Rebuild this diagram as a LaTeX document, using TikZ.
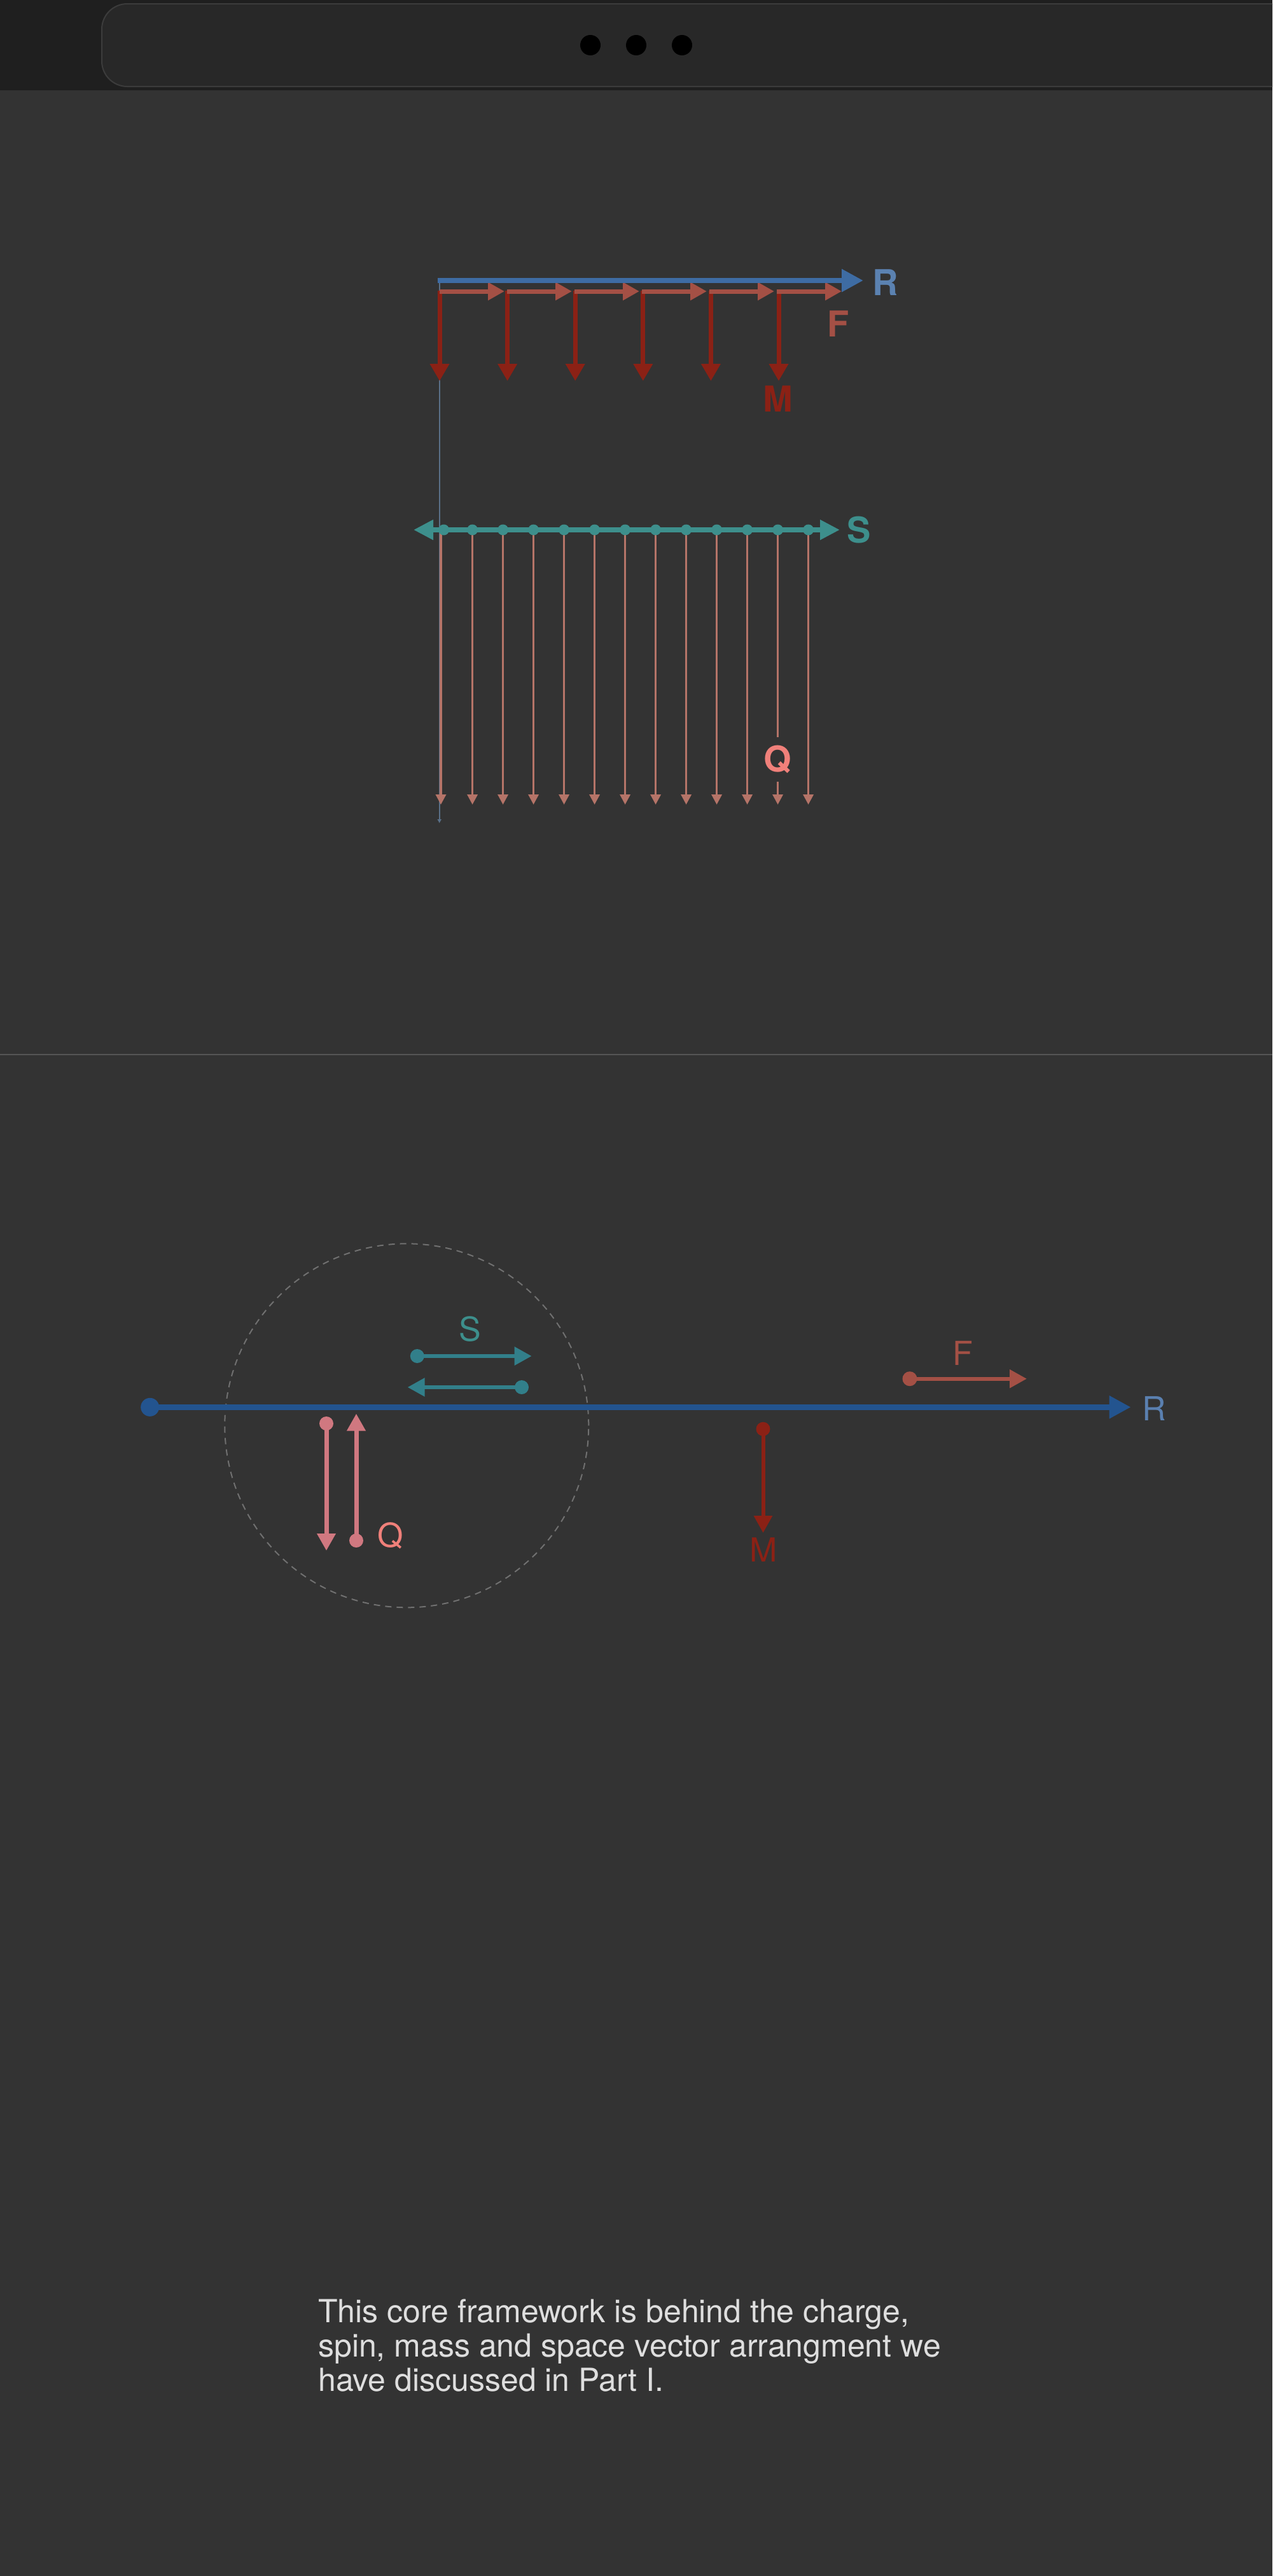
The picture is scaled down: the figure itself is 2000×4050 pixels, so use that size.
\documentclass[tikz,border=0pt]{standalone}
\usepackage{fontspec}
\setmainfont{TeX Gyre Heros}
\usetikzlibrary{arrows.meta,positioning}

\definecolor{bgcol}{HTML}{333333}
\definecolor{barcol}{HTML}{1F1F1F}
\definecolor{tabcol}{HTML}{282828}
\definecolor{tabline}{HTML}{3C3C3C}
\definecolor{rulecol}{HTML}{555555}
\definecolor{rcol}{HTML}{3E6CA3}
\definecolor{rdeep}{HTML}{23548F}
\definecolor{rlab}{HTML}{5A80B0}
\definecolor{fcol}{HTML}{A45045}
\definecolor{mcol}{HTML}{8B2115}
\definecolor{scol}{HTML}{3D8F8C}
\definecolor{sdeep}{HTML}{327F8A}
\definecolor{qcol}{HTML}{B57468}
\definecolor{qdeep}{HTML}{D07880}
\definecolor{qlab}{HTML}{F0807A}
\definecolor{thincol}{HTML}{5A7088}
\definecolor{ringcol}{HTML}{707070}
\definecolor{txtcol}{HTML}{DEDEDE}

\begin{document}
\begin{tikzpicture}[x=1pt,y=-1pt]

\tikzset{
  Dot/.style = {circle, inner sep=0pt, minimum size=22pt},
  LabelTop/.style = {inner sep=0pt, font=\fontsize{56}{56}\selectfont\bfseries},
  LabelBot/.style = {inner sep=0pt, font=\fontsize{52}{52}\selectfont},
  RTop/.style = {rcol, line width=8.5pt, -{Triangle[length=34pt,width=34pt]}},
  FTop/.style = {fcol, line width=7pt, -{Triangle[length=26pt,width=27pt]}},
  MTop/.style = {mcol, line width=7pt, -{Triangle[length=27pt,width=29pt]}},
  STop/.style = {scol, line width=7.5pt, {Triangle[length=31pt,width=30pt]}-{Triangle[length=31pt,width=30pt]}},
  QTop/.style = {qcol, line width=3.5pt, -{Triangle[length=16pt,width=16pt]}},
  VecBot/.style = {line width=6pt, -{Triangle[length=27pt,width=28pt]}} }

  \clip (0,0) rectangle (2000,4050);
  \fill[bgcol] (0,0) rectangle (2000,4050);

  % window bar
  \fill[barcol] (0,0) rectangle (2000,142);
  \draw[tabline, fill=tabcol, line width=2pt, rounded corners=40pt] (160,6) rectangle (2100,136);
  \node[Dot, fill=black, minimum size=32pt] (w1) at (928,71) {};
  \node[Dot, fill=black, minimum size=32pt] (w2) at (1000,71) {};
  \node[Dot, fill=black, minimum size=32pt] (w3) at (1072,71) {};

  \draw[rulecol, line width=2pt] (0,1658) -- (2000,1658);

  % upper picture
  \coordinate (v0) at (690.7,441);
  \coordinate (v1) at (690.7,1294);
  \draw[thincol, line width=2pt, -{Triangle[length=6pt,width=6pt]}] (v0) -- (v1);

  \foreach \i in {0,...,5} {
    \coordinate (m\i) at (691+106.6*\i,457);
    \coordinate (mt\i) at (691+106.6*\i,599);
    \draw[MTop] (m\i) -- (mt\i);
    \coordinate (f\i) at (691+106*\i,458);
    \coordinate (ft\i) at (793+106*\i,458);
    \draw[FTop] (f\i) -- (ft\i);
  }

  \coordinate (r0) at (688,441);
  \coordinate (r1) at (1357,441);
  \draw[RTop] (r0) -- (r1);

  \node[LabelTop, text=rcol!85!white] (R) at (1392,444) {R};
  \node[LabelTop, text=fcol] (F) at (1318,509) {F};
  \node[LabelTop, text=mcol] (M) at (1223,627) {M};

  \foreach \x [count=\n] in {693,742.6,790.6,838.6,886.6,934.6,982.6,1030.6,1078.6,1126.6,1174.6,1222.6,1270.6} {
    \coordinate (q\n) at (\x,833);
    \coordinate (qt\n) at (\x,1265);
    \draw[QTop] (q\n) -- (qt\n);
  }

  \coordinate (sL) at (650,833);
  \coordinate (sR) at (1320,833);
  \draw[STop] (sL) -- (sR);
  \foreach \x [count=\n] in {697.6,742.6,790.6,838.6,886.6,934.6,982.6,1030.6,1078.6,1126.6,1174.6,1222.6,1270.6}
    \node[Dot, fill=scol, minimum size=17pt] (sd\n) at (\x,833) {};

  \node[LabelTop, text=scol] (S) at (1350,833) {S};
  \node[LabelTop, text=qlab, fill=bgcol, inner xsep=4pt, inner ysep=13pt] (Q) at (1222,1194) {Q};

  % lower picture
  \draw[ringcol, line width=2pt, dash pattern=on 10pt off 8pt] (639.3,2241.3) circle[radius=286pt];

  \node[Dot, fill=rdeep, minimum size=29pt] (rb0) at (235.7,2212.3) {};
  \coordinate (rb1) at (1777.6,2212.3);
  \draw[rdeep, line width=8.5pt, -{Triangle[length=34pt,width=34pt]}] (rb0.center) -- (rb1);
  \node[LabelBot, text=rlab] (Rb) at (1814,2215) {R};

  \node[Dot, fill=sdeep] (sa0) at (655.8,2132) {};
  \coordinate (sa1) at (835.7,2132);
  \draw[VecBot, sdeep] (sa0.center) -- (sa1);
  \node[Dot, fill=sdeep] (sb0) at (820,2181) {};
  \coordinate (sb1) at (640.6,2181);
  \draw[VecBot, sdeep] (sb0.center) -- (sb1);
  \node[LabelBot, text=scol] (Sb) at (739,2090) {S};

  \node[Dot, fill=qdeep] (qa0) at (513,2238) {};
  \coordinate (qa1) at (513,2438);
  \draw[VecBot, qdeep, line width=7pt] (qa0.center) -- (qa1);
  \node[Dot, fill=qdeep] (qb0) at (560,2422) {};
  \coordinate (qb1) at (560,2222.5);
  \draw[VecBot, qdeep, line width=7pt] (qb0.center) -- (qb1);
  \node[LabelBot, text=qlab] (Qb) at (614,2414) {Q};

  \node[Dot, fill=fcol, minimum size=23pt] (fb0) at (1430,2167.7) {};
  \coordinate (fb1) at (1614,2167.7);
  \draw[VecBot, fcol] (fb0.center) -- (fb1);
  \node[LabelBot, text=fcol] (Fb) at (1513,2128) {F};

  \node[Dot, fill=mcol] (mb0) at (1199.5,2246.7) {};
  \coordinate (mb1) at (1199.5,2410);
  \draw[VecBot, mcol] (mb0.center) -- (mb1);
  \node[LabelBot, text=mcol] (Mb) at (1200,2437) {M};

  \node[anchor=base west, align=left, inner sep=0pt, text=txtcol,
        font=\fontsize{50}{54}\selectfont] (note) at (500,3759)
    {This core framework is behind the charge,\\
     spin, mass and space vector arrangment we\\
     have discussed in Part I.};

\end{tikzpicture}
\end{document}
